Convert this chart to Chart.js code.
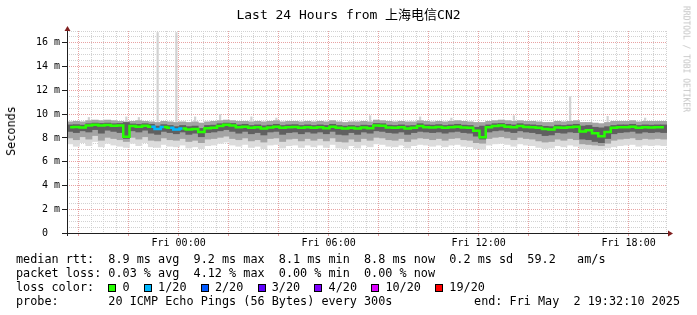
<!DOCTYPE html>
<html>
<head>
<meta charset="utf-8">
<script src="https://cdn.jsdelivr.net/npm/chart.js@4"></script>
<style>
body { margin: 0; background: #fff; }
#wrap { position: relative; width: 697px; height: 315px; overflow: hidden;
  font-family: "DejaVu Sans Mono", "Noto Sans CJK SC", monospace; color: #000; }
canvas { position: absolute; left: 0; top: 0; }
.title { position: absolute; left: 0; top: 6px; width: 697px; text-align: center; font-size: 13px; line-height: 17px; white-space: pre; }
.ytitle { position: absolute; left: 11px; top: 131px; font-size: 11.8px; white-space: nowrap;
  transform: translate(-50%, -50%) rotate(-90deg); }
.mark { position: absolute; left: 686px; top: 59px; font-size: 8px; color: #c4c4c4; white-space: nowrap;
  transform: translate(-50%, -50%) rotate(90deg); }
.leg { position: absolute; left: 16px; font-size: 11.8px; line-height: 14px; white-space: pre; }
.leg.end { left: auto; right: 17px; }
.sq { display: inline-block; width: 8px; height: 8px; border: 1px solid #000; box-sizing: border-box;
  vertical-align: -1px; margin-right: calc(1ch - 8px); }
</style>
</head>
<body>
<div id="wrap">
  <canvas id="smoke" width="697" height="315"></canvas>
  <div class="title">Last 24 Hours from 上海电信CN2</div>
  <div class="ytitle">Seconds</div>
  <div class="mark">RRDTOOL / TOBI OETIKER</div>
  <div class="leg" style="top:252px">median rtt:  8.9 ms avg  9.2 ms max  8.1 ms min  8.8 ms now  0.2 ms sd  59.2   am/s</div>
  <div class="leg" style="top:266px">packet loss: 0.03 % avg  4.12 % max  0.00 % min  0.00 % now</div>
  <div class="leg" id="lossLine" style="top:280px"></div>
  <div class="leg" style="top:294px">probe:       20 ICMP Echo Pings (56 Bytes) every 300s</div>
  <div class="leg end" style="top:294px">end: Fri May  2 19:32:10 2025</div>
</div>
<script>
// 24h window ending Fri 19:32:10, one bin = 15 min, values in ms
const spanHours = 24;
const binHours = 0.25;
const startClock = 19 + 32 / 60 + 10 / 3600;

const median = [
  8.90, 8.92, 8.88, 9.05, 9.10, 9.05, 9.08, 9.02, 9.05, 8.10,
  9.00, 8.95, 9.02, 8.95, 8.75, 8.92, 8.85, 8.72, 8.80, 8.70,
  8.75, 8.50, 8.82, 8.85, 9.00, 9.10, 9.05, 8.90, 8.95, 8.85,
  8.90, 8.80, 8.88, 8.95, 8.85, 8.90, 8.92, 8.85, 8.90, 8.85,
  8.90, 8.82, 8.95, 8.85, 8.80, 8.85, 8.80, 8.88, 8.82, 9.05,
  9.02, 8.88, 8.85, 8.90, 8.80, 8.85, 9.00, 8.90, 8.88, 8.92,
  8.85, 8.90, 8.95, 8.88, 8.85, 8.60, 8.05, 8.90, 9.00, 9.05,
  8.95, 8.90, 9.00, 8.92, 8.90, 8.85, 8.75, 8.72, 8.88, 8.85,
  8.90, 8.95, 8.55, 8.65, 8.40, 8.15, 8.50, 8.85, 8.90, 8.90,
  8.95, 8.85, 8.90, 8.88, 8.90, 8.90
];

// lost pings out of 20, per bin
const loss = [
  0, 0, 0, 0, 0, 0, 0, 0, 0, 0,
  0, 0, 0, 0, 1, 0, 0, 1, 0, 0,
  0, 0, 0, 0, 0, 0, 0, 0, 0, 0,
  0, 0, 0, 0, 0, 0, 0, 0, 0, 0,
  0, 0, 0, 0, 0, 0, 0, 0, 0, 0,
  0, 0, 0, 0, 0, 0, 0, 0, 0, 0,
  0, 0, 0, 0, 0, 0, 0, 0, 0, 0,
  0, 0, 0, 0, 0, 0, 0, 0, 0, 0,
  0, 0, 0, 0, 0, 0, 0, 0, 0, 0,
  0, 0, 0, 0, 0, 0
];

const pingMax = [
  9.35, 9.40, 9.35, 9.45, 9.50, 9.45, 9.50, 9.45, 9.40, 9.35,
  9.40, 9.45, 9.40, 9.35, 9.30, 9.40, 9.35, 9.30, 9.35, 9.30,
  9.35, 9.25, 9.35, 9.40, 9.45, 9.50, 9.45, 9.40, 9.40, 9.35,
  9.40, 9.35, 9.40, 9.45, 9.35, 9.40, 9.40, 9.35, 9.40, 9.35,
  9.40, 9.35, 9.45, 9.35, 9.30, 9.35, 9.35, 9.40, 9.35, 9.50,
  9.45, 9.40, 9.35, 9.40, 9.35, 9.35, 9.45, 9.40, 9.35, 9.40,
  9.35, 9.40, 9.45, 9.40, 9.35, 9.30, 9.30, 9.40, 9.45, 9.50,
  9.45, 9.40, 9.45, 9.40, 9.40, 9.35, 9.30, 9.30, 9.40, 9.35,
  9.40, 9.45, 9.30, 9.30, 9.25, 9.20, 9.30, 9.40, 9.40, 9.40,
  9.45, 9.35, 9.40, 9.40, 9.40, 9.40
];

const darkHigh = [
  9.10, 9.12, 9.08, 9.20, 9.25, 9.22, 9.25, 9.20, 9.22, 9.30,
  9.18, 9.15, 9.20, 9.15, 9.00, 9.12, 9.05, 8.95, 9.05, 8.95,
  9.00, 8.80, 9.05, 9.08, 9.20, 9.25, 9.22, 9.10, 9.15, 9.05,
  9.10, 9.02, 9.08, 9.15, 9.05, 9.10, 9.12, 9.05, 9.10, 9.05,
  9.10, 9.05, 9.15, 9.05, 9.00, 9.05, 9.00, 9.08, 9.05, 9.22,
  9.20, 9.08, 9.05, 9.10, 9.02, 9.05, 9.20, 9.10, 9.08, 9.12,
  9.05, 9.10, 9.15, 9.08, 9.05, 8.90, 9.00, 9.10, 9.20, 9.22,
  9.15, 9.10, 9.20, 9.12, 9.10, 9.05, 8.98, 8.95, 9.08, 9.05,
  9.10, 9.15, 9.00, 9.05, 8.90, 8.85, 8.95, 9.05, 9.10, 9.10,
  9.15, 9.05, 9.10, 9.08, 9.10, 9.10
];

const darkLow = [
  8.55, 8.45, 8.60, 8.50, 8.70, 8.40, 8.65, 8.55, 8.45, 7.95,
  8.60, 8.50, 8.65, 8.40, 8.30, 8.55, 8.45, 8.35, 8.50, 8.30,
  8.40, 8.10, 8.45, 8.50, 8.60, 8.70, 8.55, 8.40, 8.55, 8.35,
  8.45, 8.25, 8.50, 8.55, 8.30, 8.45, 8.50, 8.35, 8.50, 8.40,
  8.50, 8.35, 8.55, 8.30, 8.25, 8.45, 8.30, 8.50, 8.40, 8.60,
  8.55, 8.45, 8.40, 8.50, 8.30, 8.45, 8.55, 8.50, 8.45, 8.50,
  8.40, 8.50, 8.55, 8.45, 8.40, 8.15, 7.90, 8.50, 8.60, 8.65,
  8.55, 8.45, 8.60, 8.50, 8.45, 8.35, 8.20, 8.25, 8.45, 8.40,
  8.50, 8.45, 7.90, 7.85, 7.70, 7.60, 7.95, 8.35, 8.45, 8.50,
  8.55, 8.40, 8.50, 8.45, 8.50, 8.45
];

const midLow = [
  8.00, 7.85, 8.10, 7.90, 8.20, 7.80, 8.05, 7.95, 7.85, 7.70,
  8.05, 7.90, 8.10, 7.80, 7.75, 8.00, 7.85, 7.80, 7.95, 7.70,
  7.80, 7.60, 7.90, 7.95, 8.05, 8.15, 7.95, 7.85, 8.00, 7.75,
  7.85, 7.65, 7.95, 8.00, 7.70, 7.90, 7.95, 7.75, 7.95, 7.80,
  7.95, 7.75, 8.00, 7.70, 7.65, 7.90, 7.70, 7.95, 7.80, 8.05,
  8.00, 7.85, 7.80, 7.95, 7.70, 7.90, 8.00, 7.95, 7.85, 7.95,
  7.80, 7.95, 8.00, 7.85, 7.80, 7.60, 7.55, 7.95, 8.05, 8.10,
  8.00, 7.85, 8.05, 7.95, 7.90, 7.75, 7.65, 7.70, 7.90, 7.80,
  7.95, 7.85, 7.50, 7.45, 7.40, 7.35, 7.55, 7.80, 7.90, 7.95,
  8.00, 7.85, 7.95, 7.90, 7.95, 7.90
];

const pingMin = [
  7.50, 7.30, 7.60, 7.35, 7.70, 7.25, 7.55, 7.40, 7.30, 7.20,
  7.55, 7.35, 7.60, 7.25, 7.20, 7.45, 7.30, 7.25, 7.40, 7.15,
  7.25, 7.10, 7.35, 7.40, 7.55, 7.65, 7.40, 7.30, 7.45, 7.20,
  7.30, 7.10, 7.40, 7.45, 7.15, 7.35, 7.40, 7.20, 7.40, 7.25,
  7.40, 7.20, 7.45, 7.15, 7.10, 7.35, 7.15, 7.40, 7.25, 7.50,
  7.45, 7.30, 7.25, 7.40, 7.15, 7.35, 7.45, 7.40, 7.30, 7.40,
  7.25, 7.40, 7.45, 7.30, 7.25, 7.10, 7.05, 7.40, 7.50, 7.55,
  7.45, 7.30, 7.50, 7.40, 7.35, 7.20, 7.10, 7.15, 7.35, 7.25,
  7.40, 7.30, 7.10, 7.05, 7.00, 7.00, 7.15, 7.25, 7.35, 7.40,
  7.45, 7.30, 7.40, 7.35, 7.40, 7.35
];

// single slow pings sticking out above the smoke
const peakBins = [3, 9, 11, 14, 17, 20, 24, 29, 33, 48, 56, 61, 71, 80, 86, 92];
const peakValues = [9.75, 9.8, 9.75, 16.9, 16.9, 9.8, 10.0, 9.8, 9.7, 9.9, 9.8, 9.7, 9.9, 11.5, 9.85, 9.7];

const lossLabels = ['0', '1/20', '2/20', '3/20', '4/20', '10/20', '19/20'];
const lossLevels = [0, 1, 2, 3, 4, 10, 19];
const lossColors = ['#26ff00', '#00b8ff', '#0059ff', '#5e00ff', '#7e00ff', '#dd00ff', '#ff0000'];

const yMax = 17;
const yStep = 0.5;

const gridGray = '#d2d2d2';
const gridRed = '#e8a3a3';

// legend line with coloured squares
let lossHtml = 'loss color:  ';
lossLabels.forEach((l, i) => {
  lossHtml += '<span class="sq" style="background:' + lossColors[i] + '"></span> ' + l + '  ';
});
document.getElementById('lossLine').innerHTML = lossHtml;

function lossColor(n) {
  let c = lossColors[0];
  lossLevels.forEach((lv, i) => { if (n >= lv) c = lossColors[i]; });
  return c;
}

const xOf = i => (i + 0.5) * binHours;
const band = (lo, hi) => lo.map((v, i) => ({ x: xOf(i), y: [v, hi[i]] }));

function clockOf(v) {
  return Math.round((startClock + v) * 2) / 2;
}

const axisArrows = {
  id: 'axisArrows',
  afterDraw(chart) {
    const { ctx, chartArea: a } = chart;
    ctx.save();
    ctx.strokeStyle = '#1f1f1f';
    ctx.lineWidth = 1;
    ctx.beginPath();
    ctx.moveTo(a.left - 4, a.bottom + 0.5);
    ctx.lineTo(a.right + 2, a.bottom + 0.5);
    ctx.moveTo(a.left + 0.5, a.bottom + 3);
    ctx.lineTo(a.left + 0.5, a.top - 2);
    ctx.stroke();
    ctx.fillStyle = '#801f1f';
    ctx.beginPath();
    ctx.moveTo(a.left + 0.5, a.top - 5);
    ctx.lineTo(a.left - 2.5, a.top);
    ctx.lineTo(a.left + 3.5, a.top);
    ctx.closePath();
    ctx.fill();
    ctx.beginPath();
    ctx.moveTo(a.right + 6, a.bottom + 0.5);
    ctx.lineTo(a.right + 1, a.bottom - 2.5);
    ctx.lineTo(a.right + 1, a.bottom + 3.5);
    ctx.closePath();
    ctx.fill();
    ctx.restore();
  }
};

new Chart(document.getElementById('smoke'), {
  type: 'bar',
  data: {
    datasets: [
      {
        label: 'peaks',
        data: peakBins.map((b, k) => ({ x: xOf(b), y: [pingMax[b], peakValues[k]] })),
        backgroundColor: '#d2d2d2',
        barPercentage: 0.35,
        order: 5
      },
      {
        label: 'min-max',
        data: band(pingMin, pingMax),
        backgroundColor: '#dcdcdc',
        order: 4
      },
      {
        label: 'mid',
        data: band(midLow, pingMax),
        backgroundColor: '#a4a4a4',
        order: 3
      },
      {
        label: 'dark',
        data: band(darkLow, darkHigh),
        backgroundColor: '#606060',
        order: 2
      },
      {
        type: 'line',
        label: 'median rtt',
        data: median.map((v, i) => ({ x: xOf(i), y: v })),
        borderColor: lossColors[0],
        borderWidth: 2.5,
        pointRadius: 0,
        stepped: 'middle',
        segment: {
          borderColor: c => lossColor(Math.max(loss[c.p0DataIndex], loss[c.p1DataIndex]))
        },
        order: 0
      }
    ]
  },
  options: {
    responsive: false,
    animation: false,
    events: [],
    layout: { padding: { top: 31, right: 30, left: 0, bottom: 0 } },
    datasets: {
      bar: {
        grouped: false,
        barPercentage: 1,
        categoryPercentage: 1,
        borderWidth: 0
      }
    },
    scales: {
      x: {
        type: 'linear',
        min: 0,
        max: spanHours,
        offset: false,
        afterFit: s => { s.height = 82; },
        afterBuildTicks: s => {
          const first = Math.ceil(startClock * 2) / 2 - startClock;
          const t = [];
          for (let v = first; v <= spanHours + 1e-6; v += 0.5) t.push({ value: v });
          s.ticks = t;
        },
        grid: {
          offset: false,
          color: c => (c.tick && clockOf(c.tick.value) % 2 === 0 ? gridRed : gridGray),
          tickColor: c => (c.tick && clockOf(c.tick.value) % 2 === 0 ? gridRed : 'transparent'),
          tickLength: 3
        },
        border: { display: false, dash: [1, 1] },
        ticks: {
          autoSkip: false,
          maxRotation: 0,
          padding: 1,
          color: '#000',
          font: { family: 'DejaVu Sans Mono', size: 10 },
          callback: v => {
            const c = clockOf(v);
            if (c % 6 !== 0) return '';
            const day = c >= 24 ? 'Fri' : 'Thu';
            const hh = String(c % 24).padStart(2, '0');
            return day + ' ' + hh + ':00';
          }
        }
      },
      y: {
        min: 0,
        max: yMax,
        afterFit: s => { s.width = 67; },
        afterBuildTicks: s => {
          const t = [];
          for (let v = 0; v <= yMax + 1e-6; v += yStep) t.push({ value: v });
          s.ticks = t;
        },
        grid: {
          color: c => (c.tick && c.tick.value % 2 === 0 ? gridRed : gridGray),
          tickColor: c => (c.tick && c.tick.value % 2 === 0 ? '#1f1f1f' : 'transparent'),
          tickLength: 5
        },
        border: { display: false, dash: [1, 1] },
        ticks: {
          autoSkip: false,
          padding: 2,
          color: '#000',
          font: { family: 'DejaVu Sans Mono', size: 10 },
          callback: v => (v === 0 ? '0  ' : (v % 2 === 0 ? v + ' m' : ''))
        }
      }
    },
    plugins: {
      legend: { display: false },
      tooltip: { enabled: false },
      title: { display: false }
    }
  },
  plugins: [axisArrows]
});
</script>
</body>
</html>
